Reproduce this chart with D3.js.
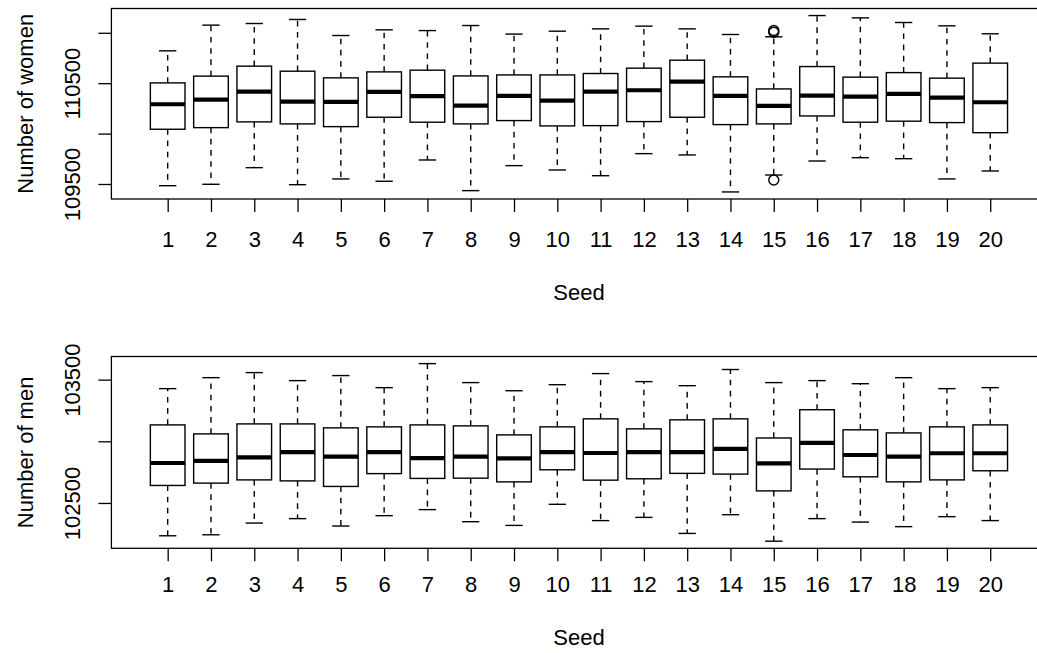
<!DOCTYPE html>
<html><head><meta charset="utf-8">
<script src="https://cdn.jsdelivr.net/npm/d3@7"></script>
<style>body{margin:0;background:#fff}svg{display:block}</style>
</head><body>
<svg id="c" width="1037" height="653"></svg>
<script>
// ---- data ----
const seeds = [1,2,3,4,5,6,7,8,9,10,11,12,13,14,15,16,17,18,19,20];

const womenLow  = [109483,109497,109662,109493,109550,109527,109738,109434,109682,109639,109582,109801,109788,109421,109589,109728,109761,109751,109550,109629];
const womenQ1   = [110043,110059,110116,110096,110069,110162,110113,110096,110129,110076,110079,110119,110162,110089,110096,110175,110113,110123,110109,110009];
const womenMed  = [110291,110337,110417,110317,110314,110414,110371,110278,110374,110327,110417,110430,110516,110374,110275,110377,110367,110394,110357,110311];
const womenQ3   = [110503,110570,110669,110619,110553,110612,110629,110572,110582,110582,110596,110649,110728,110563,110443,110665,110560,110605,110550,110699];
const womenHigh = [110821,111076,111092,111132,110973,111029,111022,111072,110987,111016,111039,111066,111039,110983,110960,111171,111148,111102,111069,110990];
const womenOutSeed  = [15, 15, 15];
const womenOutValue = [111022, 111006, 109540];
const womenTicks  = [109500, 110000, 110500, 111000];
const womenLabels = ["109500", "", "110500", ""];

const menLow  = [102234,102242,102337,102373,102313,102397,102446,102348,102318,102489,102357,102383,102253,102405,102190,102373,102345,102308,102389,102357];
const menQ1   = [102642,102661,102687,102679,102634,102738,102699,102701,102671,102769,102685,102696,102740,102734,102598,102775,102712,102671,102687,102761];
const menMed  = [102824,102842,102870,102913,102875,102913,102864,102875,102862,102913,102905,102913,102913,102938,102821,102987,102889,102875,102903,102903];
const menQ3   = [103133,103060,103141,103141,103109,103117,103133,103125,103052,103117,103182,103101,103174,103182,103027,103256,103093,103068,103117,103133];
const menHigh = [103427,103516,103557,103492,103533,103435,103630,103476,103410,103459,103549,103484,103451,103582,103476,103492,103467,103516,103427,103435];
const menOutSeed  = [];
const menOutValue = [];
const menTicks  = [102500, 103000, 103500];
const menLabels = ["102500", "", "103500"];

// ---- drawing ----
const FONT = "'Liberation Sans', Arial, Helvetica, sans-serif";
const FS = 22;
const svg = d3.select("#c");
svg.append("rect").attr("width",1037).attr("height",653).attr("fill","#fff");

const x = d3.scaleLinear().domain([-0.3, 21.3]).range([111.4, 1046.5]);
const unit = x(1) - x(0);

function panel(opt) {
  const allV = opt.low.concat(opt.high, opt.outV);
  const lo = d3.min(allV), hi = d3.max(allV), pad = (hi - lo) * 0.04;
  const y = d3.scaleLinear().domain([lo - pad, hi + pad]).range([opt.bottom, opt.top]);
  const g = svg.append("g");

  const boxes = g.selectAll("g.box").data(seeds).enter().append("g");
  const bw = unit * 0.8, sw = unit * 0.4;
  // whiskers
  boxes.append("line").attr("x1", d => x(d)).attr("x2", d => x(d))
    .attr("y1", (d,i) => y(opt.q3[i])).attr("y2", (d,i) => y(opt.high[i]))
    .attr("stroke","#000").attr("stroke-width",1.4).attr("stroke-dasharray","5.6,5.6");
  boxes.append("line").attr("x1", d => x(d)).attr("x2", d => x(d))
    .attr("y1", (d,i) => y(opt.q1[i])).attr("y2", (d,i) => y(opt.low[i]))
    .attr("stroke","#000").attr("stroke-width",1.4).attr("stroke-dasharray","5.6,5.6");
  // staples
  boxes.append("line").attr("x1", d => x(d) - sw/2).attr("x2", d => x(d) + sw/2)
    .attr("y1", (d,i) => y(opt.high[i])).attr("y2", (d,i) => y(opt.high[i]))
    .attr("stroke","#000").attr("stroke-width",1.4);
  boxes.append("line").attr("x1", d => x(d) - sw/2).attr("x2", d => x(d) + sw/2)
    .attr("y1", (d,i) => y(opt.low[i])).attr("y2", (d,i) => y(opt.low[i]))
    .attr("stroke","#000").attr("stroke-width",1.4);
  // box
  boxes.append("rect").attr("x", d => x(d) - bw/2).attr("width", bw)
    .attr("y", (d,i) => y(opt.q3[i])).attr("height", (d,i) => y(opt.q1[i]) - y(opt.q3[i]))
    .attr("fill","#fff").attr("stroke","#000").attr("stroke-width",1.4);
  // median
  boxes.append("line").attr("x1", d => x(d) - bw/2).attr("x2", d => x(d) + bw/2)
    .attr("y1", (d,i) => y(opt.med[i])).attr("y2", (d,i) => y(opt.med[i]))
    .attr("stroke","#000").attr("stroke-width",4.2);
  // outliers
  g.selectAll("circle").data(opt.outS.map((s,i)=>[s,opt.outV[i]])).enter().append("circle")
    .attr("cx", d => x(d[0])).attr("cy", d => y(d[1])).attr("r", 5)
    .attr("fill","none").attr("stroke","#000").attr("stroke-width",1.4);

  // frame
  g.append("rect").attr("x", 111.4).attr("y", opt.top)
    .attr("width", 1046.5 - 111.4).attr("height", opt.bottom - opt.top)
    .attr("fill","none").attr("stroke","#000").attr("stroke-width",1.3);

  // x axis
  const xa = g.append("g").attr("transform", `translate(0,${opt.bottom})`)
    .call(d3.axisBottom(x).tickValues(seeds).tickFormat(d3.format("d")).tickSizeInner(13).tickSizeOuter(0));
  xa.select(".domain").remove();
  xa.selectAll("line").attr("stroke","#000").attr("stroke-width",1.3);
  xa.selectAll("text").attr("y", opt.xLabBase - opt.bottom).attr("dy", 0)
    .attr("fill","#000").style("font-family", FONT).style("font-size", FS + "px");

  // y axis
  const ya = g.append("g").attr("transform", "translate(111.4,0)")
    .call(d3.axisLeft(y).tickValues(opt.ticks).tickFormat((d,i) => opt.labels[i]).tickSizeInner(13).tickSizeOuter(0));
  ya.select(".domain").remove();
  ya.selectAll("line").attr("stroke","#000").attr("stroke-width",1.3);
  ya.selectAll(".tick text").attr("x", null).attr("dy", null)
    .attr("transform", "translate(-31,0) rotate(-90)")
    .attr("text-anchor","middle").attr("fill","#000")
    .style("font-family", FONT).style("font-size", FS + "px");

  // axis titles
  svg.append("text").attr("x", x(10.5)).attr("y", opt.titleBase).attr("text-anchor","middle")
    .style("font-family", FONT).style("font-size", FS + "px").text("Seed");
  svg.append("text").attr("transform", `translate(33,${(opt.top + opt.bottom)/2}) rotate(-90)`)
    .attr("text-anchor","middle").style("font-family", FONT).style("font-size", FS + "px").text(opt.ylab);
}

panel({low: womenLow, q1: womenQ1, med: womenMed, q3: womenQ3, high: womenHigh,
  outS: womenOutSeed, outV: womenOutValue, ticks: womenTicks, labels: womenLabels,
  top: 8.5, bottom: 199, xLabBase: 247.3, titleBase: 300, ylab: "Number of women"});
panel({low: menLow, q1: menQ1, med: menMed, q3: menQ3, high: menHigh,
  outS: menOutSeed, outV: menOutValue, ticks: menTicks, labels: menLabels,
  top: 356.5, bottom: 548.3, xLabBase: 592.5, titleBase: 644.5, ylab: "Number of men"});
</script>
</body></html>
